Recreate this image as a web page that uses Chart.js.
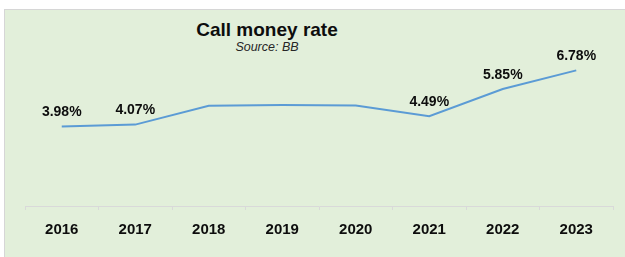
<!DOCTYPE html>
<html>
<head>
<meta charset="utf-8">
<script src="https://cdn.jsdelivr.net/npm/chart.js@4/dist/chart.umd.min.js"></script>
<style>
  html, body { margin: 0; padding: 0; background: #ffffff; width: 625px; height: 257px; overflow: hidden; }
  #panel { position: absolute; left: 4px; top: 9px; width: 621px; height: 248px; background: #E2EFDA; border-left: 1px solid #d6d6d6; border-top: 1px solid #d6d6d6; box-sizing: border-box; }
  #wrap { position: absolute; left: 0; top: 0; width: 625px; height: 257px; }
  .title { position: absolute; left: 167px; width: 200px; text-align: center; font-family: "Liberation Sans", Arial, sans-serif; color: #0d0d0d; white-space: nowrap; }
  #t1 { top: 19px; font-size: 19px; font-weight: bold; line-height: 22px; }
  #t2 { top: 40px; font-size: 12.5px; font-style: italic; line-height: 14px; color: #262626; }
</style>
</head>
<body>
<div id="panel"></div>
<div class="title" id="t1">Call money rate</div>
<div class="title" id="t2">Source: BB</div>
<div id="wrap"><canvas id="c" width="625" height="257"></canvas></div>
<script>
const years = ["2016", "2017", "2018", "2019", "2020", "2021", "2022", "2023"];
const callMoneyRate = [3.98, 4.07, 5.01, 5.05, 5.02, 4.49, 5.85, 6.78];
const valueLabels = ["3.98%", "4.07%", "", "", "", "4.49%", "5.85%", "6.78%"];

const FONT = '"Liberation Sans", Arial, sans-serif';

const labelPlugin = {
  id: 'valueLabels',
  afterDatasetsDraw(chart) {
    const ctx = chart.ctx;
    const meta = chart.getDatasetMeta(0);
    ctx.save();
    ctx.font = 'bold 14px ' + FONT;
    ctx.fillStyle = '#0d0d0d';
    ctx.textAlign = 'center';
    ctx.textBaseline = 'alphabetic';
    meta.data.forEach((pt, i) => {
      const txt = valueLabels[i];
      if (!txt) return;
      ctx.fillText(txt, pt.x, pt.y - 10.5);
    });
    ctx.restore();
  }
};

new Chart(document.getElementById('c'), {
  type: 'line',
  data: {
    labels: years,
    datasets: [{
      data: callMoneyRate,
      borderColor: '#5B9BD5',
      borderWidth: 2,
      pointRadius: 0,
      pointHoverRadius: 0,
      tension: 0,
      fill: false
    }]
  },
  options: {
    responsive: false,
    animation: false,
    devicePixelRatio: 1,
    events: [],
    layout: { padding: { left: 25, right: 12, top: 46, bottom: 7 } },
    plugins: {
      legend: { display: false },
      title: { display: false },
      tooltip: { enabled: false }
    },
    scales: {
      x: {
        offset: true,
        grid: {
          offset: true,
          drawOnChartArea: false,
          drawTicks: true,
          tickLength: 4,
          color: '#d9d9d9'
        },
        border: { display: true, color: '#d9d9d9', width: 1 },
        ticks: {
          color: '#0d0d0d',
          font: { family: FONT, size: 15, weight: 'bold' },
          padding: 11,
          maxRotation: 0,
          autoSkip: false
        }
      },
      y: {
        display: false,
        min: 0,
        max: 8
      }
    }
  },
  plugins: [labelPlugin]
});
</script>
</body>
</html>
